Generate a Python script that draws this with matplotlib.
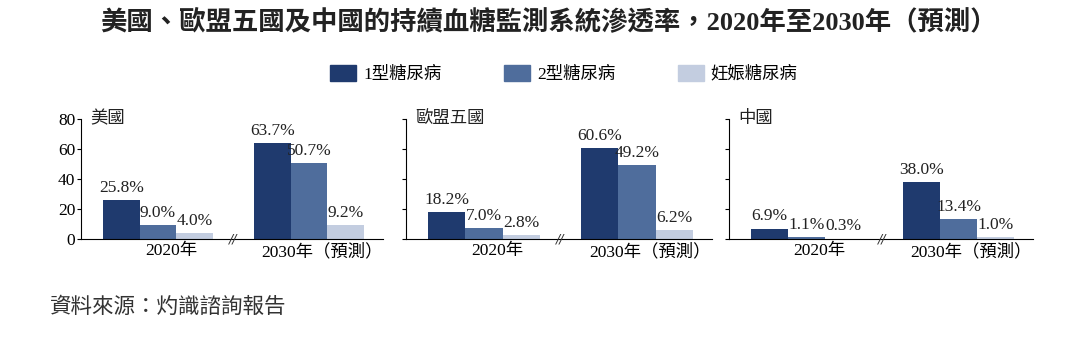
import matplotlib.pyplot as plt
import matplotlib.patches as mpatches
import numpy as np

# 資料
regions = ['美國', '歐盟五國', '中國']
years = ['2020年', '2030年（預測）']
series = ['1型糖尿病', '2型糖尿病', '妊娠糖尿病']
type1 = [[25.8, 63.7], [18.2, 60.6], [6.9, 38.0]]
type2 = [[9.0, 50.7], [7.0, 49.2], [1.1, 13.4]]
gest = [[4.0, 9.2], [2.8, 6.2], [0.3, 1.0]]
yticks = [0, 20, 40, 60, 80]

colors = ['#1f3a6e', '#4f6d9c', '#c3cde0']
fam = ['Liberation Serif', 'Noto Sans CJK TC', 'DejaVu Sans']
plt.rcParams['font.family'] = fam

fig = plt.figure(figsize=(10.8, 3.42), dpi=100)

fig.text(0.508, 0.935, '美國、歐盟五國及中國的持續血糖監測系統滲透率，2020年至2030年（預測）',
         ha='center', va='center', fontsize=19, fontweight='bold', color='#222222')

# 圖例
handles = [mpatches.Patch(color=c, label=s) for c, s in zip(colors, series)]
fig.legend(handles=handles, loc='center', bbox_to_anchor=(0.522, 0.784), ncol=3,
           frameon=False, fontsize=12.5, handlelength=1.5, handleheight=1.0,
           handletextpad=0.4, columnspacing=3.6)

lefts = [0.075, 0.3759, 0.675]
widths = [0.2796, 0.2833, 0.2815]
x = np.arange(len(years))
w = 0.243

for i, reg in enumerate(regions):
    ax = fig.add_axes([lefts[i], 0.3012, widths[i], 0.351])
    vals = [type1[i], type2[i], gest[i]]
    for j in range(3):
        bars = ax.bar(x + (j - 1) * w, vals[j], w, color=colors[j])
        ax.bar_label(bars, labels=['%.1f%%' % v for v in vals[j]], padding=3,
                     fontsize=12.5, color='#222222')
    ax.set_xlim(-0.51, 1.49)
    ax.set_ylim(0, 80)
    ax.set_yticks(yticks)
    if i == 0:
        ax.set_yticklabels([str(t) for t in yticks], fontsize=12.5)
    else:
        ax.set_yticklabels([])
    ax.set_xticks(x + 0.085)
    ax.set_xticklabels(years, fontsize=12.5)
    ax.tick_params(axis='x', length=0, pad=3)
    ax.tick_params(axis='y', length=3, pad=1, width=0.8)
    for s in ['top', 'right']:
        ax.spines[s].set_visible(False)
    ax.spines['left'].set_linewidth(0.8)
    ax.spines['bottom'].set_linewidth(0.8)
    ax.text(0.5, 0, '//', transform=ax.get_xaxis_transform(), ha='center', va='center',
            fontsize=9, color='#333333', family='DejaVu Sans', style='italic')
    ax.text(0.03, 1.0, reg, transform=ax.transAxes, ha='left', va='center',
            fontsize=12.5, color='#222222')

fig.text(0.046, 0.099, '資料來源：灼識諮詢報告', ha='left', va='center',
         fontsize=15.5, color='#333333', style='italic')

fig.savefig('out.png', dpi=100)
